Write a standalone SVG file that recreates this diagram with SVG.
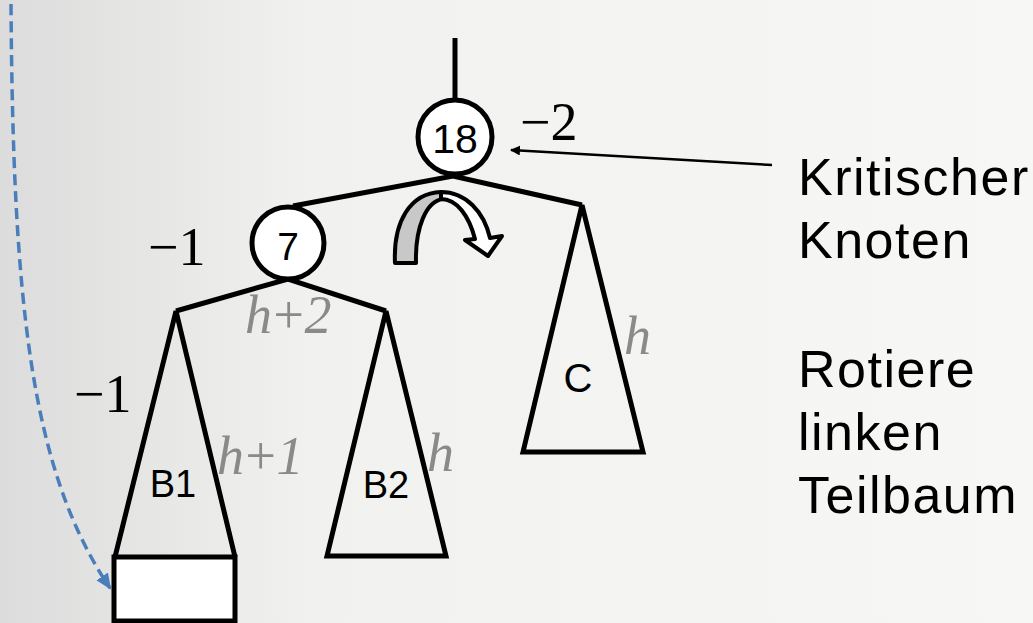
<svg xmlns="http://www.w3.org/2000/svg" width="1033" height="623" viewBox="0 0 1033 623">
<defs>
<linearGradient id="bg" x1="0" y1="0" x2="1" y2="0">
<stop offset="0" stop-color="#dcdcdc"/>
<stop offset="0.3" stop-color="#f1f1ef"/>
<stop offset="1" stop-color="#f7f7f5"/>
</linearGradient>
<marker id="ah" markerWidth="10" markerHeight="10" refX="9" refY="5" orient="auto" markerUnits="userSpaceOnUse" viewBox="0 0 10 10">
<path d="M0,0 L10,5 L0,10 Z" fill="#000"/>
</marker>
<marker id="ahb" markerWidth="16" markerHeight="14" refX="14" refY="7" orient="auto" markerUnits="userSpaceOnUse" viewBox="0 0 16 14">
<path d="M0,0 L16,7 L0,14 Z" fill="#4a7ebb"/>
</marker>
</defs>
<style>
.edge{stroke:#000;stroke-width:5;fill:none;stroke-linejoin:miter}
.tri{stroke:#000;stroke-width:5;fill:none;stroke-linejoin:miter}
.node{fill:#fff;stroke:#000;stroke-width:5}
.lbl{font-family:"Liberation Sans",Arial,sans-serif;fill:#000;text-anchor:middle}
.bal{font-family:"Liberation Serif","Times New Roman",serif;font-size:54px;fill:#000}
.ht{font-family:"Liberation Serif","Times New Roman",serif;font-style:italic;font-size:54px;fill:#8a8a8a;letter-spacing:-2px}
.side{font-family:"Liberation Sans",Arial,sans-serif;font-size:52px;fill:#000;letter-spacing:1.5px}
</style>
<rect x="0" y="0" width="1033" height="623" fill="url(#bg)"/>

<g id="connectors">
<line class="edge" x1="455" y1="38" x2="455" y2="100"/>
<polyline class="edge" points="293,206 453,176 582,205"/>
<polyline class="edge" points="176,311 288,279 386,311"/>
<line x1="772" y1="165" x2="511" y2="150" stroke="#000" stroke-width="2.5" marker-end="url(#ah)"/>
<path d="M11,4 C13,300 30,470 110,588" fill="none" stroke="#4a7ebb" stroke-width="3.5" stroke-dasharray="11,6" marker-end="url(#ahb)"/>
</g>

<g id="subtree-B1">
<polyline class="tri" points="115,557 176,311 235,557"/>
<rect x="114" y="557" width="121" height="64" fill="#fff" stroke="#000" stroke-width="5"/>
<text class="lbl" x="173" y="497" font-size="38">B1</text>
</g>

<g id="subtree-B2">
<polygon class="tri" points="327,556 386,311 446,556"/>
<text class="lbl" x="386" y="498" font-size="38">B2</text>
</g>

<g id="subtree-C">
<polygon class="tri" points="523,452 582,205 643,452"/>
<text class="lbl" x="578" y="392" font-size="40">C</text>
</g>

<g id="node-18">
<circle class="node" cx="455" cy="137" r="37"/>
<text class="lbl" x="455" y="153" font-size="41">18</text>
</g>

<g id="node-7">
<circle class="node" cx="288" cy="243" r="36"/>
<text class="lbl" x="288" y="260" font-size="39">7</text>
</g>

<g id="rotation-arrow">
<path d="M395,263 C393,222 410,193 441,192 L443,199 C426,201 415,228 416,263 Z" fill="#c8c8c8" stroke="#000" stroke-width="4" stroke-linejoin="round"/>
<path d="M441,192 C466,192 484,212 490,238 L502,236 L488,256 L465,240 L475,239 C469,216 457,199 441,199 Z" fill="#fff" stroke="#000" stroke-width="4" stroke-linejoin="round"/>
</g>

<g id="balance-labels">
<text class="bal" x="520" y="140">−2</text>
<text class="bal" x="148" y="265">−1</text>
<text class="bal" x="74" y="412">−1</text>
</g>

<g id="height-labels">
<text class="ht" x="245" y="333">h+2</text>
<text class="ht" x="217" y="474">h+1</text>
<text class="ht" x="427" y="471">h</text>
<text class="ht" x="624" y="354">h</text>
</g>

<g id="side-text">
<text class="side" x="798" y="195">Kritischer</text>
<text class="side" x="798" y="258">Knoten</text>
<text class="side" x="798" y="387">Rotiere</text>
<text class="side" x="798" y="450">linken</text>
<text class="side" x="798" y="513">Teilbaum</text>
</g>
</svg>
